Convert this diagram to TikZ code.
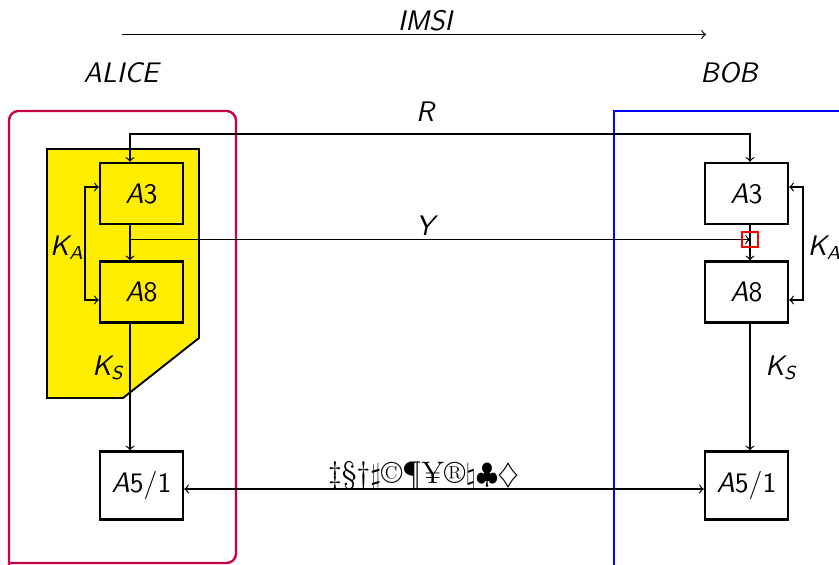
\documentclass[tikz,border=0pt]{standalone}
\usetikzlibrary{calc}
\definecolor{alicecol}{RGB}{200,0,70}
\definecolor{keyyellow}{RGB}{255,238,0}
\newcommand\mi[1]{{\sffamily\itshape #1}}
\newcommand\mup[1]{{\sffamily #1}}
\begin{document}
\begin{tikzpicture}[x=0.425pt,y=-0.425pt,font=\large,
  blk/.style={draw,line width=1pt,minimum width=83*0.425pt,minimum height=61*0.425pt,inner sep=0pt},
  blk51/.style={draw,line width=1pt,minimum width=83*0.425pt,minimum height=68*0.425pt,inner sep=0pt},
  conn/.style={line width=0.5pt},
  lbl/.style={inner sep=1pt}]
\useasboundingbox (0,0) rectangle (839,564);
% party frames
\draw[alicecol,line width=1pt,rounded corners=4pt] (9,580) -- (9,111) -- (236,111) -- (236,563) -- (9,563);
\draw[blue,line width=1pt] (614,566) -- (614,111) -- (850,111);
\draw[blue,line width=1pt] (614,566) -- (850,566);
% yellow key area
\filldraw[fill=keyyellow,draw=black,line width=0.8pt] (47,149) -- (199,149) -- (199,338) -- (123,398) -- (47,398) -- cycle;
% nodes
\node[lbl] (imsi) at (425,21) {\mi{IMSI}};
\node[lbl] (alice) at (121,73) {\mi{ALICE}};
\node[lbl] (bob) at (729,73) {\mi{BOB}};
\coordinate (imsiL) at (122,34.5);
\coordinate (imsiR) at (706,34.5);
\node[blk] (a3) at (141.5,193.5) {\mi{A}\mup{3}};
\node[blk] (a8) at (141.5,292) {\mi{A}\mup{8}};
\node[blk51] (a51) at (141.5,485.5) {\mi{A}\mup{5/1}};
\node[blk] (b3) at (746.5,193.5) {\mi{A}\mup{3}};
\node[blk] (b8) at (746.5,292) {\mi{A}\mup{8}};
\node[blk51] (b51) at (746.5,485.5) {\mi{A}\mup{5/1}};
\coordinate (xa) at (130,0);
\coordinate (xb) at (750,0);
\coordinate (rline) at (0,134);
\coordinate (yline) at (0,239.5);
\coordinate (cline) at (0,489);
\coordinate (kaL) at (85,0);
\coordinate (kaR) at (803,0);
\coordinate (kaT) at (0,187);
\coordinate (kaB) at (0,300);
\node[lbl] (rlbl) at (425,112) {\mi{R}};
\node[lbl] (ylbl) at (425,226) {\mi{Y}};
\node[lbl] (kal) at (67,248) {\mi{K}\textsubscript{\mi{A}}};
\node[lbl,anchor=west] (kar) at (805,248) {\mi{K}\textsubscript{\mi{A}}};
\node[lbl] (ksl) at (108,368) {\mi{K}\textsubscript{\mi{S}}};
\node[lbl] (ksr) at (781,368) {\mi{K}\textsubscript{\mi{S}}};
\node[lbl,anchor=base,font=\fontsize{13.2}{16}\selectfont] (sym) at (424,483) {\ddag\S\dag$\sharp$\textcopyright\P\textyen\textregistered$\natural\clubsuit\diamondsuit$};
% connectors
\draw[conn,->] (imsiL) -- (imsiR);
\draw[conn,<->] (a3.north -| xa) -- (xa |- rline) -- (xb |- rline) -- (b3.north -| xb);
\draw[conn,->] (a3.south -| xa) -- (a8.north -| xa);
\draw[conn,->] (b3.south -| xb) -- (b8.north -| xb);
\draw[conn,->] (xa |- yline) -- (xb |- yline);
\draw[conn,->] (a8.south -| xa) -- (a51.north -| xa);
\draw[conn,->] (b8.south -| xb) -- (b51.north -| xb);
\draw[conn,<->] (a3.west |- kaT) -- (kaL |- kaT) -- (kaL |- kaB) -- (a8.west |- kaB);
\draw[conn,<->] (b3.east |- kaT) -- (kaR |- kaT) -- (kaR |- kaB) -- (b8.east |- kaB);
\draw[conn,<->] (a51.east |- cline) -- (b51.west |- cline);
% marker
\draw[red,line width=0.7pt] (742,232) rectangle (758,247);
\end{tikzpicture}
\end{document}
